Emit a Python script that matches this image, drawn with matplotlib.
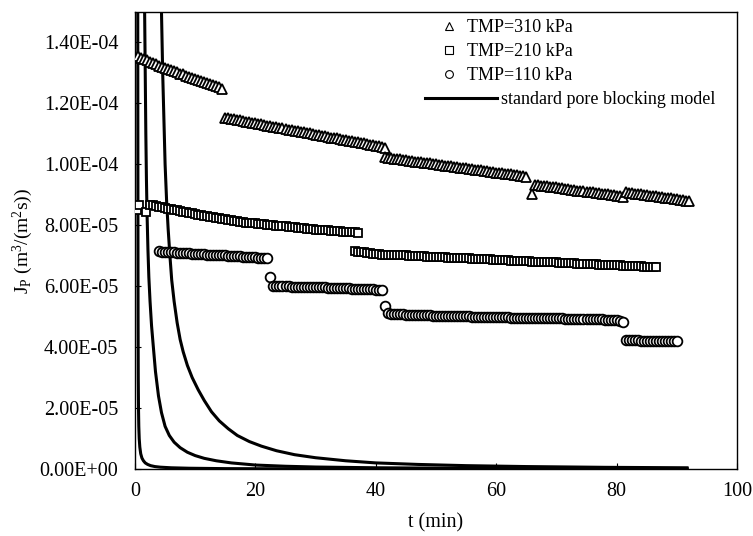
import numpy as np
import matplotlib
matplotlib.use("Agg")
import matplotlib.pyplot as plt
from matplotlib.lines import Line2D
from matplotlib.ticker import FuncFormatter, MultipleLocator

plt.rcParams['font.family'] = ['Liberation Serif', 'DejaVu Serif']
plt.rcParams['mathtext.fontset'] = 'custom'
plt.rcParams['mathtext.rm'] = 'Liberation Serif'
plt.rcParams['mathtext.it'] = 'Liberation Serif:italic'

# permeate flux values are given in units of 1e-5 m3/(m2 s)
SCALE = 1e-5

# (t in min, J in 1e-5 m3/(m2 s))
tmp310 = [
    (0.5, 13.56), (1.0, 13.50), (1.5, 13.46), (2.0, 13.41), (2.5, 13.37), (3.0, 13.32),
    (3.5, 13.28), (4.0, 13.24), (4.5, 13.19), (5.0, 13.16), (5.5, 13.12), (6.0, 13.09),
    (6.5, 13.05), (7.0, 13.02), (7.5, 12.98), (8.0, 12.95), (8.5, 12.91), (9.0, 12.88),
    (9.5, 12.84), (10.0, 12.81), (10.5, 12.77), (11.0, 12.74), (11.5, 12.70), (12.0, 12.67),
    (12.5, 12.63), (13.0, 12.60), (13.5, 12.56), (14.0, 12.53), (14.5, 12.48),
    (15.0, 11.53), (15.5, 11.51), (16.0, 11.49), (16.5, 11.48), (17.0, 11.46), (17.5, 11.44),
    (18.0, 11.42), (18.5, 11.40), (19.0, 11.38), (19.5, 11.36), (20.0, 11.35), (20.5, 11.33),
    (21.0, 11.31), (21.5, 11.29), (22.0, 11.27), (22.5, 11.25), (23.0, 11.24), (23.5, 11.22),
    (24.0, 11.20), (24.5, 11.18), (25.0, 11.16), (25.5, 11.14), (26.0, 11.13), (26.5, 11.11),
    (27.0, 11.09), (27.5, 11.07), (28.0, 11.05), (28.5, 11.03), (29.0, 11.02), (29.5, 10.98),
    (30.0, 10.97), (30.5, 10.95), (31.0, 10.94), (31.5, 10.92), (32.0, 10.90), (32.5, 10.88),
    (33.0, 10.87), (33.5, 10.85), (34.0, 10.83), (34.5, 10.81), (35.0, 10.79), (35.5, 10.78),
    (36.0, 10.76), (36.5, 10.74), (37.0, 10.72), (37.5, 10.70), (38.0, 10.69), (38.5, 10.67),
    (39.0, 10.65), (39.5, 10.63), (40.0, 10.61), (40.5, 10.60), (41.0, 10.58), (41.5, 10.55),
    (41.5, 10.23), (42.0, 10.21), (42.5, 10.20), (43.0, 10.19), (43.5, 10.17), (44.0, 10.16),
    (44.5, 10.15), (45.0, 10.13), (45.5, 10.12), (46.0, 10.11), (46.5, 10.09), (47.0, 10.08),
    (47.5, 10.07), (48.0, 10.05), (48.5, 10.04), (49.0, 10.03), (49.5, 10.01), (50.0, 10.00),
    (50.5, 9.99), (51.0, 9.97), (51.5, 9.96), (52.0, 9.95), (52.5, 9.93), (53.0, 9.92),
    (53.5, 9.91), (54.0, 9.89), (54.5, 9.88), (55.0, 9.87), (55.5, 9.85), (56.0, 9.84),
    (56.5, 9.83), (57.0, 9.81), (57.5, 9.80), (58.0, 9.79), (58.5, 9.77), (59.0, 9.76),
    (59.5, 9.75), (60.0, 9.73), (60.5, 9.72), (61.0, 9.71), (61.5, 9.69), (62.0, 9.68),
    (62.5, 9.67), (63.0, 9.65), (63.5, 9.64), (64.0, 9.63), (64.5, 9.61), (65.0, 9.59),
    (66.0, 9.03), (66.5, 9.33), (67.0, 9.32), (67.5, 9.30), (68.0, 9.29), (68.5, 9.28),
    (69.0, 9.26), (69.5, 9.25), (70.0, 9.24), (70.5, 9.22), (71.0, 9.21), (71.5, 9.20),
    (72.0, 9.18), (72.5, 9.17), (73.0, 9.16), (73.5, 9.14), (74.0, 9.13), (74.5, 9.12),
    (75.0, 9.10), (75.5, 9.09), (76.0, 9.08), (76.5, 9.06), (77.0, 9.05), (77.5, 9.04),
    (78.0, 9.02), (78.5, 9.01), (79.0, 9.00), (79.5, 8.98), (80.0, 8.97), (80.5, 8.96),
    (81.0, 8.94),
    (81.5, 9.08), (82.0, 9.07), (82.5, 9.05), (83.0, 9.04), (83.5, 9.03), (84.0, 9.01),
    (84.5, 9.00), (85.0, 8.99), (85.5, 8.97), (86.0, 8.96), (86.5, 8.95), (87.0, 8.93),
    (87.5, 8.92), (88.0, 8.91), (88.5, 8.89), (89.0, 8.88), (89.5, 8.87), (90.0, 8.85),
    (90.5, 8.84), (91.0, 8.83), (91.5, 8.81), (92.0, 8.79),
]

tmp210 = [
    (0.3, 8.50), (0.6, 8.68), (1.9, 8.45),
    (2.5, 8.67), (3.0, 8.65), (3.5, 8.63), (4.0, 8.61), (4.5, 8.59), (5.0, 8.57),
    (5.5, 8.55), (6.0, 8.53), (6.5, 8.51), (7.0, 8.49), (7.5, 8.47), (8.0, 8.45),
    (8.5, 8.43), (9.0, 8.41), (9.5, 8.39), (10.0, 8.37), (10.5, 8.35), (11.0, 8.33),
    (11.5, 8.31), (12.0, 8.30), (12.5, 8.28), (13.0, 8.26), (13.5, 8.24), (14.0, 8.23),
    (14.5, 8.21), (15.0, 8.19), (15.5, 8.18), (16.0, 8.16), (16.5, 8.15), (17.0, 8.13),
    (17.5, 8.12), (18.0, 8.10), (18.5, 8.09), (19.0, 8.08), (19.5, 8.07), (20.0, 8.06),
    (20.5, 8.05), (21.0, 8.04), (21.5, 8.03), (22.0, 8.02), (22.5, 8.01), (23.0, 8.00),
    (23.5, 7.99), (24.0, 7.98), (24.5, 7.97), (25.0, 7.96), (25.5, 7.95), (26.0, 7.94),
    (26.5, 7.93), (27.0, 7.92), (27.5, 7.91), (28.0, 7.90), (28.5, 7.89), (29.0, 7.88),
    (29.5, 7.87), (30.0, 7.86), (30.5, 7.86), (31.0, 7.85), (31.5, 7.84), (32.0, 7.83),
    (32.5, 7.82), (33.0, 7.82), (33.5, 7.81), (34.0, 7.80), (34.5, 7.79), (35.0, 7.79),
    (35.5, 7.78), (36.0, 7.77), (36.5, 7.77), (37.0, 7.76),
    (36.5, 7.14), (37.0, 7.13), (37.5, 7.12), (38.0, 7.11), (38.5, 7.09), (39.0, 7.08),
    (39.5, 7.07), (40.0, 7.06), (40.5, 7.05), (41.0, 7.04), (41.5, 7.04), (42.0, 7.03),
    (42.5, 7.03), (43.0, 7.02), (43.5, 7.02), (44.0, 7.02), (44.5, 7.01), (45.0, 7.01),
    (45.5, 7.00), (46.0, 7.00), (46.5, 6.99), (47.0, 6.99), (47.5, 6.98), (48.0, 6.98),
    (48.5, 6.97), (49.0, 6.97), (49.5, 6.96), (50.0, 6.96), (50.5, 6.96), (51.0, 6.95),
    (51.5, 6.95), (52.0, 6.94), (52.5, 6.94), (53.0, 6.93), (53.5, 6.93), (54.0, 6.92),
    (54.5, 6.92), (55.0, 6.91), (55.5, 6.91), (56.0, 6.90), (56.5, 6.90), (57.0, 6.90),
    (57.5, 6.89), (58.0, 6.89), (58.5, 6.88), (59.0, 6.88), (59.5, 6.87), (60.0, 6.87),
    (60.5, 6.86), (61.0, 6.86), (61.5, 6.85), (62.0, 6.85), (62.5, 6.84), (63.0, 6.84),
    (63.5, 6.84), (64.0, 6.83), (64.5, 6.83), (65.0, 6.82), (65.5, 6.82), (66.0, 6.81),
    (66.5, 6.81), (67.0, 6.80), (67.5, 6.80), (68.0, 6.79), (68.5, 6.79), (69.0, 6.78),
    (69.5, 6.78), (70.0, 6.78), (70.5, 6.77), (71.0, 6.77), (71.5, 6.76), (72.0, 6.76),
    (72.5, 6.75), (73.0, 6.75), (73.5, 6.74), (74.0, 6.74), (74.5, 6.73), (75.0, 6.73),
    (75.5, 6.72), (76.0, 6.72), (76.5, 6.72), (77.0, 6.71), (77.5, 6.71), (78.0, 6.70),
    (78.5, 6.70), (79.0, 6.69), (79.5, 6.69), (80.0, 6.68), (80.5, 6.68), (81.0, 6.67),
    (81.5, 6.67), (82.0, 6.66), (82.5, 6.66), (83.0, 6.66), (83.5, 6.65), (84.0, 6.65),
    (84.5, 6.64), (85.0, 6.64), (85.5, 6.63), (86.0, 6.63), (86.5, 6.62),
]

tmp110 = [
    (4.0, 7.14), (4.5, 7.13), (5.0, 7.13), (5.5, 7.12), (6.0, 7.12), (6.5, 7.11),
    (7.0, 7.10), (7.5, 7.10), (8.0, 7.09), (8.5, 7.09), (9.0, 7.08), (9.5, 7.07),
    (10.0, 7.07), (10.5, 7.06), (11.0, 7.06), (11.5, 7.05), (12.0, 7.04), (12.5, 7.04),
    (13.0, 7.03), (13.5, 7.03), (14.0, 7.02), (14.5, 7.01), (15.0, 7.01), (15.5, 7.00),
    (16.0, 7.00), (16.5, 6.99), (17.0, 6.98), (17.5, 6.98), (18.0, 6.97), (18.5, 6.97),
    (19.0, 6.96), (19.5, 6.95), (20.0, 6.95), (20.5, 6.94), (21.0, 6.94), (21.5, 6.93),
    (22.0, 6.92),
    (22.5, 6.29), (23.0, 6.02), (23.5, 6.01), (24.0, 6.01), (24.5, 6.01), (25.0, 6.00),
    (25.5, 6.00), (26.0, 5.99), (26.5, 5.99), (27.0, 5.99), (27.5, 5.98), (28.0, 5.98),
    (28.5, 5.98), (29.0, 5.97), (29.5, 5.97), (30.0, 5.97), (30.5, 5.96), (31.0, 5.96),
    (31.5, 5.96), (32.0, 5.95), (32.5, 5.95), (33.0, 5.94), (33.5, 5.94), (34.0, 5.94),
    (34.5, 5.93), (35.0, 5.93), (35.5, 5.93), (36.0, 5.92), (36.5, 5.92), (37.0, 5.92),
    (37.5, 5.91), (38.0, 5.91), (38.5, 5.90), (39.0, 5.90), (39.5, 5.90), (40.0, 5.89),
    (40.5, 5.89), (41.0, 5.88),
    (41.5, 5.35), (42.0, 5.11), (42.5, 5.10), (43.0, 5.10), (43.5, 5.09), (44.0, 5.08),
    (44.5, 5.08), (45.0, 5.07), (45.5, 5.06), (46.0, 5.06), (46.5, 5.05), (47.0, 5.05),
    (47.5, 5.04), (48.0, 5.04), (48.5, 5.04), (49.0, 5.04), (49.5, 5.03), (50.0, 5.03),
    (50.5, 5.03), (51.0, 5.03), (51.5, 5.02), (52.0, 5.02), (52.5, 5.02), (53.0, 5.02),
    (53.5, 5.02), (54.0, 5.01), (54.5, 5.01), (55.0, 5.01), (55.5, 5.01), (56.0, 5.00),
    (56.5, 5.00), (57.0, 5.00), (57.5, 5.00), (58.0, 4.99), (58.5, 4.99), (59.0, 4.99),
    (59.5, 4.99), (60.0, 4.99), (60.5, 4.98), (61.0, 4.98), (61.5, 4.98), (62.0, 4.98),
    (62.5, 4.97), (63.0, 4.97), (63.5, 4.97), (64.0, 4.97), (64.5, 4.96), (65.0, 4.96),
    (65.5, 4.96), (66.0, 4.96), (66.5, 4.96), (67.0, 4.95), (67.5, 4.95), (68.0, 4.95),
    (68.5, 4.95), (69.0, 4.94), (69.5, 4.94), (70.0, 4.94), (70.5, 4.94), (71.0, 4.94),
    (71.5, 4.93), (72.0, 4.93), (72.5, 4.93), (73.0, 4.93), (73.5, 4.92), (74.0, 4.92),
    (74.5, 4.92), (75.0, 4.92), (75.5, 4.92), (76.0, 4.91), (76.5, 4.91), (77.0, 4.91),
    (77.5, 4.91), (78.0, 4.90), (78.5, 4.90), (79.0, 4.89), (79.5, 4.89), (80.0, 4.88),
    (80.5, 4.86), (81.0, 4.83),
    (81.5, 4.23), (82.0, 4.22), (82.5, 4.22), (83.0, 4.22), (83.5, 4.22), (84.0, 4.21),
    (84.5, 4.21), (85.0, 4.21), (85.5, 4.21), (86.0, 4.21), (86.5, 4.20), (87.0, 4.20),
    (87.5, 4.20), (88.0, 4.20), (88.5, 4.20), (89.0, 4.19), (89.5, 4.19), (90.0, 4.19),
]

# standard pore blocking model curves
model_a = [
    (0.45, 17.0), (0.47, 12.0), (0.49, 8.0), (0.51, 5.0), (0.54, 3.0), (0.58, 2.0),
    (0.63, 1.4), (0.70, 1.0), (0.80, 0.72), (0.95, 0.50), (1.15, 0.36), (1.4, 0.27),
    (1.7, 0.20), (2.1, 0.15), (2.6, 0.11), (3.3, 0.08), (4.2, 0.06), (6.0, 0.04),
    (9.0, 0.025), (15.0, 0.012), (30.0, 0.005), (60.0, 0.002), (91.7, 0.001),
]
model_b = [
    (1.5, 17.0), (1.6, 15.0), (1.7, 13.0), (1.8, 11.0), (1.9, 9.5), (2.0, 8.4),
    (2.15, 7.2), (2.3, 6.3), (2.5, 5.5), (2.75, 4.7), (3.05, 4.0), (3.4, 3.2),
    (3.9, 2.4), (4.4, 1.85), (5.0, 1.4), (5.7, 1.1), (6.5, 0.88), (7.5, 0.70),
    (8.7, 0.55), (10.0, 0.44), (11.5, 0.35), (13.5, 0.27), (16.0, 0.20), (20.0, 0.13),
    (25.0, 0.09), (30.0, 0.065), (40.0, 0.04), (55.0, 0.025), (70.0, 0.017), (91.7, 0.01),
]
model_c = [
    (4.2, 17.0), (4.4, 15.0), (4.6, 13.0), (4.8, 11.5), (5.0, 10.0), (5.25, 8.8),
    (5.5, 7.9), (5.8, 7.0), (6.1, 6.2), (6.5, 5.5), (7.0, 4.8), (7.5, 4.25),
    (8.0, 3.85), (8.7, 3.4), (9.5, 3.0), (10.5, 2.6), (11.5, 2.25), (12.7, 1.88),
    (14.0, 1.58), (15.5, 1.32), (17.0, 1.10), (19.0, 0.90), (21.0, 0.75), (23.5, 0.60),
    (26.5, 0.47), (30.0, 0.37), (35.0, 0.27), (40.0, 0.20), (47.0, 0.15), (55.0, 0.11),
    (65.0, 0.08), (78.0, 0.055), (91.7, 0.04),
]

W, H = 753, 536
fig = plt.figure(figsize=(W / 100, H / 100), dpi=100)
ax = fig.add_axes([135 / W, 67 / H, 602 / W, 457 / H])

# model lines
for curve in (model_a, model_b, model_c):
    t, j = zip(*curve)
    ax.plot(t, np.array(j) * SCALE, color='black', lw=2.2, zorder=2)

# measured flux
series = [
    (tmp310, '^', 7.8, 'TMP=310 kPa'),
    (tmp210, 's', 6.4, 'TMP=210 kPa'),
    (tmp110, 'o', 7.0, 'TMP=110 kPa'),
]
marker_handles = []
for pts, marker, ms, label in series:
    t, j = zip(*pts)
    ax.plot(t, np.array(j) * SCALE, ls='none', marker=marker, ms=ms,
            mfc='white', mec='black', mew=1.3, zorder=3)
    marker_handles.append(Line2D([], [], ls='none', marker=marker, ms=ms * 0.8,
                                 mfc='white', mec='black', mew=0.8, label=label))
line_handle = Line2D([], [], color='black', lw=2.2, label='standard pore blocking model')

# legend: marker entries and the model line entry are placed separately
leg1 = ax.legend(handles=marker_handles, loc='upper left',
                 bbox_to_anchor=(436 / W, 1 - 19 / H), bbox_transform=fig.transFigure,
                 frameon=False, fontsize=13, handlelength=1.4, handletextpad=0.3,
                 labelspacing=0.39, borderpad=0, borderaxespad=0)
ax.add_artist(leg1)
ax.legend(handles=[line_handle], loc='upper left',
          bbox_to_anchor=(425 / W, 1 - 91 / H), bbox_transform=fig.transFigure,
          frameon=False, fontsize=13, handlelength=4.0, handletextpad=0.22,
          borderpad=0, borderaxespad=0)

ax.set_xlim(0, 100)
ax.set_ylim(0, 1.5e-4)
ax.xaxis.set_major_locator(MultipleLocator(20))
ax.yaxis.set_major_locator(MultipleLocator(2e-5))
ax.yaxis.set_major_formatter(FuncFormatter(lambda v, _: f"{v:.2E}"))
ax.tick_params(direction='in', length=4, width=0.8, labelsize=14.5,
               top=False, right=False)
ax.tick_params(axis='y', pad=12)
ax.tick_params(axis='x', pad=9)
for sp in ax.spines.values():
    sp.set_linewidth(1.0)

ax.set_xlabel('t (min)', fontsize=14.5, labelpad=9)
ax.set_ylabel(r'J$_\mathrm{P}$ (m$^3$/(m$^2$s))', fontsize=14, labelpad=3)

fig.savefig('out.png', dpi=100)
